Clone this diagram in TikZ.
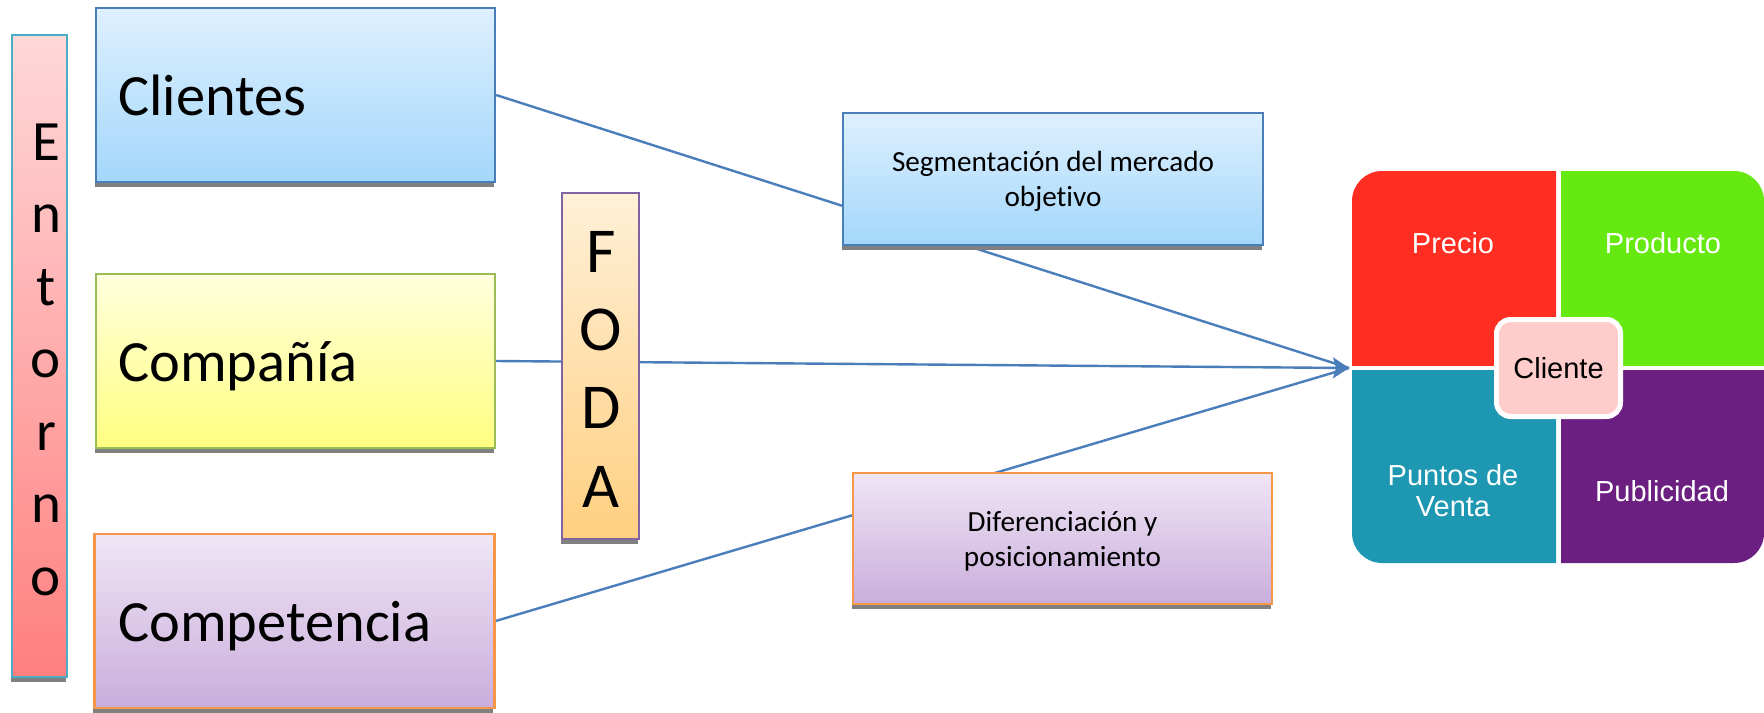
\documentclass[tikz,border=0pt]{standalone}
\usepackage{fontspec}
\setmainfont[Ligatures=NoCommon]{Carlito}
\newfontfamily\arialf{Liberation Sans}
\usetikzlibrary{arrows.meta,shadows,backgrounds}
\definecolor{blueT}{HTML}{DEF0FE}
\definecolor{blueB}{HTML}{A3D7FB}
\definecolor{blueD}{HTML}{4A7EBB}
\definecolor{yelT}{HTML}{FFFFDD}
\definecolor{yelB}{HTML}{FFFF80}
\definecolor{yelD}{HTML}{9BBB59}
\definecolor{purT}{HTML}{EFE6F5}
\definecolor{purB}{HTML}{CAADDC}
\definecolor{purD}{HTML}{F79646}
\definecolor{oraT}{HTML}{FFF0D8}
\definecolor{oraB}{HTML}{FFCF80}
\definecolor{oraD}{HTML}{8064A2}
\definecolor{pinT}{HTML}{FFD8D8}
\definecolor{pinB}{HTML}{FF7F7F}
\definecolor{pinD}{HTML}{4BACC6}
\definecolor{shadowgray}{HTML}{808080}
\definecolor{linec}{HTML}{4A7EBB}
\definecolor{cprecio}{HTML}{FF2D22}
\definecolor{cproducto}{HTML}{66E811}
\definecolor{cpuntos}{HTML}{1E98B2}
\definecolor{cpubli}{HTML}{6B1F80}
\definecolor{cpink}{HTML}{FFCCCC}
\tikzset{
  box/.style={rectangle, inner sep=0pt, line width=1.1pt,
    drop shadow={shadow xshift=-0.6pt, shadow yshift=-2.5pt, opacity=1, fill=shadowgray}},
  bluebox/.style={box, draw=blueD, top color=blueT, bottom color=blueB},
  yelbox/.style={box, draw=yelD, top color=yelT, bottom color=yelB},
  purbox/.style={box, draw=purD, top color=purT, bottom color=purB},
  orabox/.style={box, draw=oraD, top color=oraT, bottom color=oraB},
  pinbox/.style={box, draw=pinD, top color=pinT, bottom color=pinB},
  bigtxt/.style={inner sep=0pt, font=\fontsize{29.2}{35}\selectfont},
  letter/.style={inner sep=0pt, anchor=base, font=\fontsize{28.5}{34}\selectfont},
  fletter/.style={inner sep=0pt, anchor=base, font=\fontsize{32}{38}\selectfont},
  midtxt/.style={inner sep=0pt, align=center, font=\fontsize{14.6}{17.5}\selectfont},
  quadtxt/.style={inner sep=0pt, align=center, text=white, font=\arialf\fontsize{14.5}{15.5}\selectfont},
  conn/.style={draw=linec, line width=1.2pt},
}
\begin{document}
\begin{tikzpicture}[x=0.5pt,y=-0.5pt]
\useasboundingbox (0,0) rectangle (1764,712);
% left column
\node[pinbox, minimum width=27.5pt, minimum height=321pt] (ent) at (39.5,356) {};
\foreach \l [count=\i] in {E,n,t,o,r,n,o}
  \node[letter] (ent\i) at (46,{160+72.5*(\i-1)}) {\l};
\node[bluebox, minimum width=199.5pt, minimum height=87pt] (cli) at (295.5,95) {};
\node[bigtxt, anchor=base west] (tcli) at (118,115) {Clientes};
\node[yelbox, minimum width=199.5pt, minimum height=87pt] (comp) at (295.5,361) {};
\node[bigtxt, anchor=base west] (tcomp) at (118,381) {Compañía};
\node[purbox, minimum width=200pt, minimum height=87pt] (compe) at (294.5,621) {};
\node[bigtxt, anchor=base west] (tcompe) at (118,641) {Competencia};
% FODA
\node[orabox, minimum width=38.5pt, minimum height=173pt] (foda) at (600.5,366) {};
\foreach \l/\y [count=\i] in {F/272,O/350,D/428,A/507}
  \node[fletter] (foda\i) at (601,\y) {\l};
% middle boxes
\node[bluebox, minimum width=210pt, minimum height=66pt] (seg) at (1053,179) {};
\node[midtxt] (tseg) at (1053,181) {Segmentación del mercado\\objetivo};
\node[purbox, minimum width=209.5pt, minimum height=65.5pt] (dif) at (1062.5,538.5) {};
\node[midtxt] (tdif) at (1062.5,541) {Diferenciación y\\posicionamiento};
% connectors
\coordinate (tip) at (1349,368);
\begin{pgfonlayer}{background}
\draw[conn] (cli.east) -- (tip);
\draw[conn, -{Stealth[length=8pt, width=10.5pt, inset=1.5pt]}] (comp.east) -- (tip);
\draw[conn] (compe.east) -- (tip);
\end{pgfonlayer}
% matrix
\begin{scope}
\clip (1352,171) rectangle (1556,365);
\fill[cprecio, rounded corners=15pt] (1352,171) rectangle (1620,430);
\end{scope}
\begin{scope}
\clip (1561,171) rectangle (1764,365);
\fill[cproducto, rounded corners=15pt] (1490,171) rectangle (1764,430);
\end{scope}
\begin{scope}
\clip (1352,370) rectangle (1556,563);
\fill[cpuntos, rounded corners=15pt] (1352,300) rectangle (1620,563);
\end{scope}
\begin{scope}
\clip (1561,370) rectangle (1764,563);
\fill[cpubli, rounded corners=15pt] (1490,300) rectangle (1764,563);
\end{scope}
\node[quadtxt] (tprecio) at (1453,243) {Precio};
\node[quadtxt] (tproducto) at (1663,243) {Producto};
\node[quadtxt] (tpuntos) at (1453,491) {Puntos de\\Venta};
\node[quadtxt] (tpubli) at (1662,491) {Publicidad};
\node[draw=white, line width=2.5pt, fill=cpink, rounded corners=7pt, inner sep=0pt,
  minimum width=62pt, minimum height=48.5pt, font=\arialf\fontsize{14.5}{15.5}\selectfont] (cliente) at (1558.5,368) {Cliente};
\end{tikzpicture}
\end{document}
